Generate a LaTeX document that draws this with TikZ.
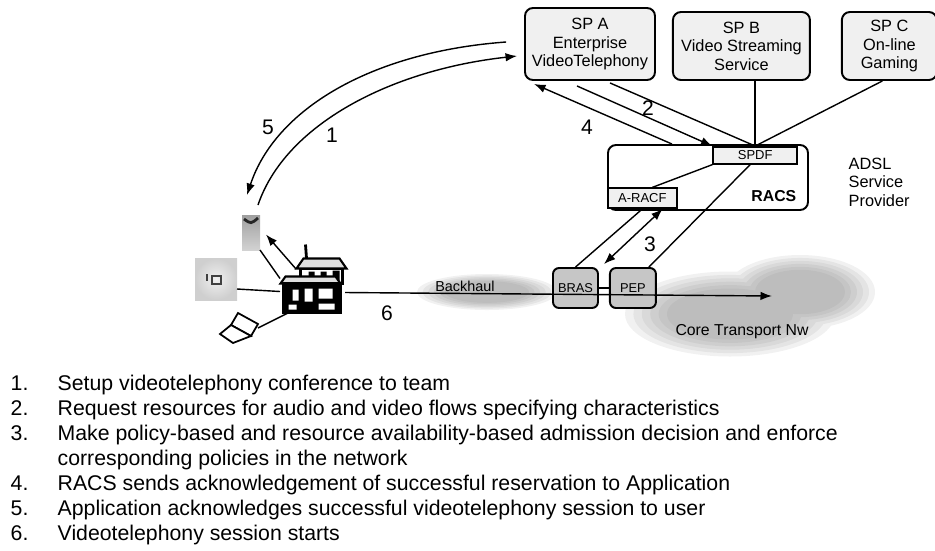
\documentclass[tikz,border=0pt]{standalone}
\usepackage{fontspec}
\setmainfont{Liberation Sans}
\usetikzlibrary{arrows.meta, positioning, calc}

\begin{document}
\begin{tikzpicture}[
    x=0.2mm, y=-0.2mm,
    line width=0.8pt,
    >={Latex[length=2.3mm, width=1.7mm]},
    spbox/.style={
        rectangle, draw, rounded corners=1.6mm, fill=gray!12,
        line width=1.1pt, align=center, inner sep=1pt,
        minimum height=13.6mm, font=\fontsize{9.3}{10.6}\selectfont
    },
    funcbox/.style={
        rectangle, draw, fill=gray!12, line width=0.9pt,
        inner sep=0pt, font=\fontsize{7.4}{8}\selectfont
    },
    netbox/.style={
        rectangle, draw, rounded corners=1.2mm, fill=gray!45,
        line width=1.1pt, minimum width=9mm, minimum height=8mm,
        inner sep=0pt, font=\fontsize{7.3}{8}\selectfont
    },
    icon/.style={inner sep=0pt, outer sep=0pt},
    arrow/.style={->},
    haze/.style={fill=black!55, opacity=0.1},
    msg/.style={inner sep=0pt, font=\fontsize{12}{12}\selectfont},
    item/.style={anchor=base west, inner sep=0pt, font=\fontsize{12.1}{14}\selectfont},
]
\useasboundingbox (0,0) rectangle (935,550);

\foreach \s in {1,0.92,0.84,0.76,0.68,0.6} {
    \fill[haze] (487,292) ellipse ({14mm*\s} and {3.6mm*\s});
    \fill[haze] (730,314) ellipse ({21mm*\s} and {8.5mm*\s})
                (800,292) ellipse ({15mm*\s} and {7.4mm*\s});
}

\node[spbox, minimum width=26mm, minimum height=14.4mm] (spa) at (590,44) {SP A\\Enterprise\\VideoTelephony};
\node[spbox, minimum width=27.4mm, right=3.2mm of spa.south east, anchor=south west] (spb) {SP B\\Video Streaming\\Service};
\node[spbox, minimum width=19mm, right=6mm of spb.south east, anchor=south west] (spc) {SP C\\On-line\\Gaming};

\node[draw, rounded corners=1.6mm, line width=1.1pt, minimum width=40mm, minimum height=13mm] (racs) at (708,177.5) {};
\node[funcbox, minimum width=16.8mm, minimum height=3.4mm, anchor=north east] (spdf) at ($(racs.north east)+(-11,2)$) {SPDF};
\node[funcbox, minimum width=13.8mm, minimum height=4mm, anchor=south west] (aracf) at ($(racs.south west)+(0,-2)$) {A-RACF};
\node[inner sep=0pt, anchor=east, font=\bfseries\fontsize{9}{10}\selectfont] (racsname) at ($(racs.east)+(-12,19)$) {RACS};
\node[inner sep=0pt, anchor=west, align=left, font=\fontsize{9.3}{10.5}\selectfont] (adsl) at (848,182) {ADSL\\Service\\Provider};

\node[netbox] (bras) at (575.5,288) {BRAS};
\node[netbox, minimum width=9.2mm, right=2mm of bras] (pep) {PEP};
\coordinate (netend) at (772,296);

\node[inner sep=0pt, font=\fontsize{8.2}{9}\selectfont] (backhaul) at (465,286) {Backhaul};
\node[inner sep=0pt, font=\fontsize{9}{10}\selectfont] (core) at (742,332) {Core Transport Nw};

% user side
\node[icon, minimum width=3.6mm, minimum height=7mm, top color=gray!75, bottom color=gray!35] (phone) at (251,232.5) {};
\draw[line width=1.6pt, gray!30!black] ($(phone.north west)+(2,4)$) .. controls ($(phone.north)+(0,9)$) .. ($(phone.north east)+(-2,3)$);
\node[icon, minimum width=8.4mm, minimum height=8.4mm, inner color=gray!12, outer color=gray!38] (fax) at (216,279) {};
\draw[gray!50!black, line width=1.2pt] ($(fax.center)+(-9,-5)$) -- ++(0,7);
\draw[gray!50!black, line width=1.2pt] ($(fax.center)+(-4,-3)$) rectangle ++(9,8);
\node[icon, minimum width=13mm, minimum height=14.6mm] (house) at (312.5,281.5) {};
\begin{scope}[shift={(house.center)}, line width=1.2pt]
    \draw[line width=1.6pt] (-7,-37) -- (-6,-23);
    \filldraw[fill=white] (-12,-13) rectangle (30,2);
    \filldraw[fill=gray!25] (-16,-13) -- (-9,-23) -- (27,-23) -- (34,-13) -- cycle;
    \fill (-4,-10) rectangle (2,-4) (8,-10) rectangle (14,-4) (20,-11) rectangle (27,-1);
    \filldraw[fill=gray!25] (-32,2) -- (-27,-5) -- (23,-5) -- (28,2) -- cycle;
    \filldraw[fill=black] (-29,2) rectangle (28,31);
    \fill[white] (-20,8) rectangle (-14,19) (-8,7) rectangle (0,20) (6,7) rectangle (20,17)
                 (-24,23) rectangle (-16,28) (6,22) rectangle (22,28);
\end{scope}
\node[icon, minimum width=7.6mm, minimum height=6.4mm] (laptop) at (239,328) {};
\begin{scope}[shift={(laptop.center)}, line width=1pt]
    \filldraw[fill=white] (-1,-15) -- (19,-4) -- (12,8) -- (-8,-3) -- cycle;
    \filldraw[fill=white] (-8,-3) -- (12,8) -- (-6,15) -- (-19,6) -- cycle;
\end{scope}

\draw (phone.south east) -- ($(house.west)+(0,-3)$);
\draw[arrow] ($(house.north west)+(16,24)$) -- ($(phone.east)+(6,2)$);
\draw ($(fax.east)+(0,10)$) -- ($(house.west)+(0,10)$);
\draw (laptop.east) -- ($(house.south west)+(10,-6)$);

\draw[arrow] ($(spa.west)+(-18,-2)$) .. controls (370,52) and (275,110) .. ($(phone.north)+(-4,-20)$);
\draw[arrow] ($(phone.north)+(7,-10)$) .. controls (285,125) and (390,70) .. ($(spa.west)+(-7,12)$);

\draw[arrow] ($(racs.north)+(-36,0)$) -- ($(spa.south west)+(10,3)$);
\draw[arrow] ($(spa.south)+(-13,5)$) -- (spdf.north west);
\draw ($(spa.south)+(20,2)$) -- (spdf.north);
\draw (spb.south -| spdf.north) -- (spdf.north);
\draw ($(spc.south)+(-7,0)$) -- (spdf.north);
\draw (spdf.south west) -- ($(aracf.north)+(10,0)$);
\draw ($(spdf.south)+(-5,0)$) -- ($(pep.north)+(16,0)$);
\draw (bras.north) -- (aracf.south);
\draw[<->] ($(aracf.south east)+(-15,0)$) -- ($(bras.north east)!0.5!(pep.north west)+(0,-3)$);

\draw (bras.east) -- (pep.west);
\draw[arrow] ($(house.east)+(0,11)$) -- (netend);

\node[msg] (m1) at (332,135) {1};
\node[msg] (m2) at (648,108) {2};
\node[msg] (m3) at (650,244) {3};
\node[msg] (m4) at (587,127) {4};
\node[msg] (m5) at (268,127) {5};
\node[msg] (m6) at (387,313) {6};

\foreach \row/\num/\txt in {
    0/1./Setup videotelephony conference to team,
    1/2./Request resources for audio and video flows specifying characteristics,
    2/3./Make policy-based and resource availability-based admission decision and enforce,
    3//corresponding policies in the network,
    4/4./RACS sends acknowledgement of successful reservation to Application,
    5/5./Application acknowledges successful videotelephony session to user,
    6/6./Videotelephony session starts} {
    \node[item] (num\row) at (10,390+25*\row) {\num};
    \node[item] (txt\row) at (57,390+25*\row) {\txt};
}

\end{tikzpicture}
\end{document}
